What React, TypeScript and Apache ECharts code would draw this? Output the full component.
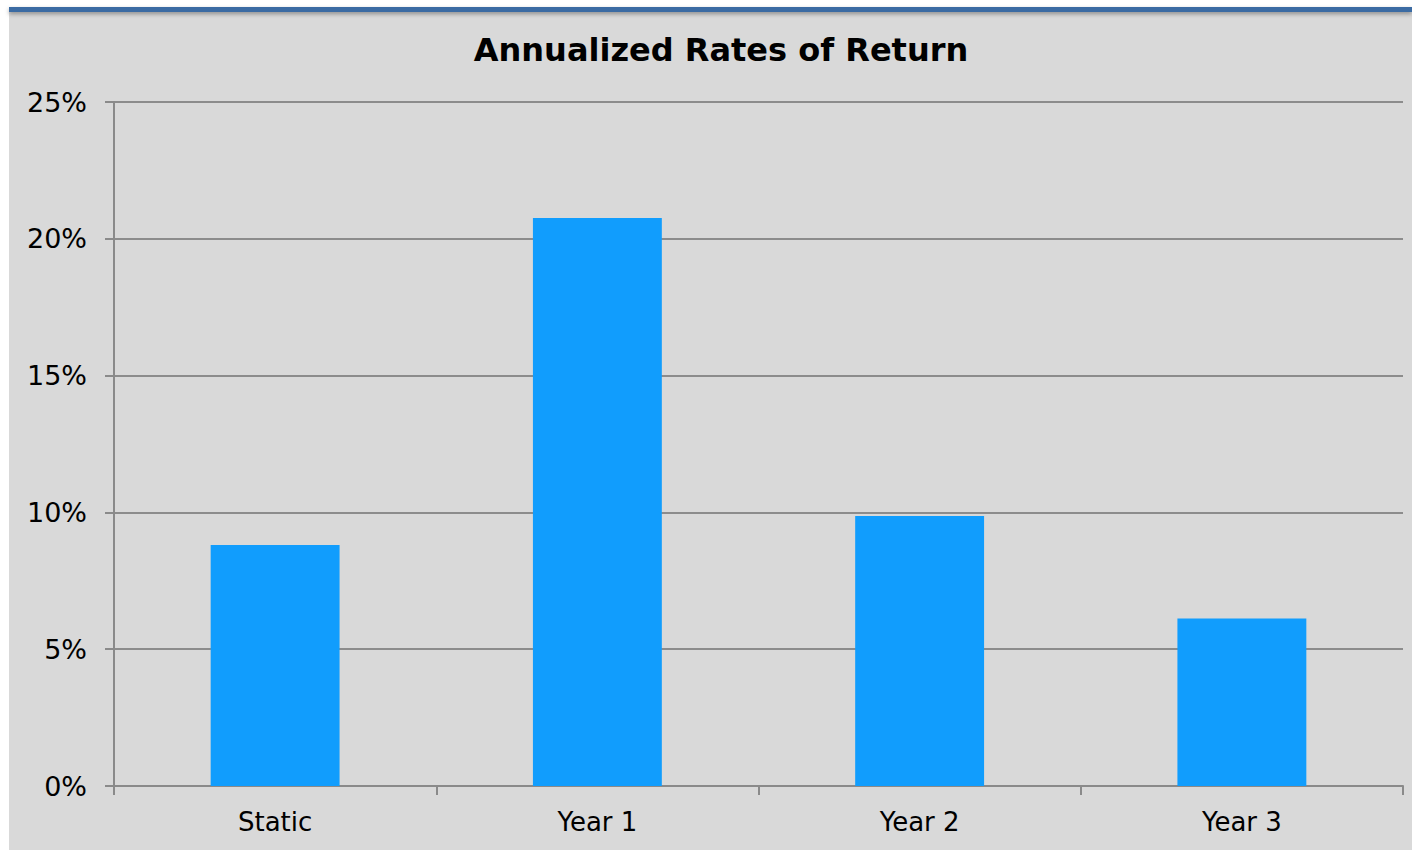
import React, { useEffect, useRef } from "react";
import * as echarts from "echarts";

const categories = ["Static", "Year 1", "Year 2", "Year 3"];
const returns = [8.81, 20.76, 9.87, 6.12];
const yTicks = [0, 5, 10, 15, 20, 25];
const titleText = "Annualized Rates of Return";

export default function App() {
  const ref = useRef<HTMLDivElement>(null);
  useEffect(() => {
    if (!ref.current) return;
    const chart = echarts.init(ref.current, null, { renderer: "svg" });
    chart.setOption({
      animation: false,
      backgroundColor: "transparent",
      textStyle: { fontFamily: "DejaVu Sans" },
      title: {
        text: titleText,
        left: 716,
        top: 29,
        textAlign: "center",
        textStyle: { fontFamily: "DejaVu Sans", fontWeight: "bold", fontSize: 32, color: "#000" },
      },
      grid: { left: 114, top: 102, width: 1289, height: 684, containLabel: false },
      xAxis: {
        type: "category",
        data: categories,
        axisLine: { show: true, lineStyle: { color: "#8a8a8a", width: 2 } },
        axisTick: { show: true, length: 9, alignWithLabel: false, lineStyle: { color: "#8a8a8a", width: 2 } },
        axisLabel: { fontSize: 26, color: "#000", margin: 23, fontFamily: "DejaVu Sans" },
        splitLine: { show: false },
      },
      yAxis: {
        type: "value",
        min: 0,
        max: 25,
        interval: 5,
        axisLine: { show: true, lineStyle: { color: "#8a8a8a", width: 2 } },
        axisTick: { show: true, length: 9, lineStyle: { color: "#8a8a8a", width: 2 } },
        axisLabel: {
          fontSize: 27,
          color: "#000",
          margin: 27,
          fontFamily: "DejaVu Sans",
          formatter: (v: number) => (yTicks.includes(v) ? `${v}%` : ""),
        },
        splitLine: { show: true, lineStyle: { color: "#8c8c8c", width: 2 } },
      },
      series: [
        {
          type: "bar",
          data: returns,
          barWidth: "40%",
          itemStyle: { color: "#119dfd" },
        },
      ],
    });
    return () => chart.dispose();
  }, []);

  return (
    <div style={{ position: "fixed", left: 0, top: 0, width: 1412, height: 850, background: "#fff", overflow: "hidden" }}>
      <div
        style={{
          position: "absolute",
          left: 9,
          top: 7,
          width: 1403,
          height: 843,
          background: "#d9d9d9",
        }}
      />
      <div
        style={{
          position: "absolute",
          left: 9,
          top: 7,
          width: 1403,
          height: 5,
          background: "#3b6ba3",
          boxShadow: "0 2px 4px rgba(0,0,0,0.35)",
        }}
      />
      <div ref={ref} style={{ position: "absolute", left: 0, top: 0, width: 1412, height: 850 }} />
    </div>
  );
}
